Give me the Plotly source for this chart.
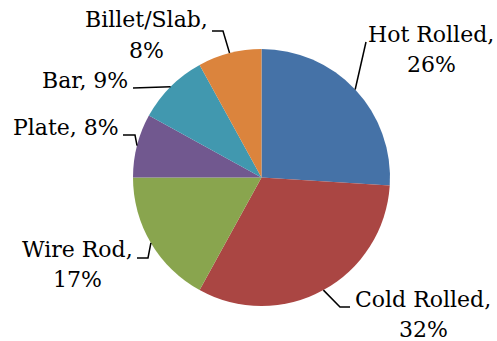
import math
import plotly.graph_objects as go

# ---- data ----
categories = ["Hot Rolled", "Cold Rolled", "Wire Rod", "Plate", "Bar", "Billet/Slab"]
shares = [26, 32, 17, 8, 9, 8]
colors = ["#4572A7", "#AA4643", "#89A54E", "#71588F", "#4198AF", "#DB843D"]

# ---- layout / style (pixels) ----
W, H = 497, 341
CX, CY, R = 261.5, 177.5, 128.5
FONT = "DejaVu Serif"
FS = 22
# per label: two-line?, text center x, first baseline y, leader-line points (label side)
label_style = [
    dict(two=True, cx=431, by=42, pts=[(366, 42)]),
    dict(two=True, cx=423, by=307, pts=[(350, 307), (340, 307)]),
    dict(two=True, cx=77, by=257, pts=[(137, 258), (148, 258)]),
    dict(two=False, cx=65.5, by=135, pts=[(123, 135), (135, 135)]),
    dict(two=False, cx=84.5, by=88, pts=[(133, 88)]),
    dict(two=True, cx=146, by=28, pts=[(212, 31), (223, 31)]),
]
LINE_GAP = 30.5


def px(x):
    return x / W


def py(y):
    return 1 - y / H


fig = go.Figure(
    go.Pie(
        labels=categories,
        values=shares,
        sort=False,
        direction="clockwise",
        rotation=0,
        marker=dict(colors=colors, line=dict(width=0)),
        textinfo="none",
        hoverinfo="label+percent",
        showlegend=False,
        domain=dict(x=[px(CX - R), px(CX + R)], y=[py(CY + R), py(CY - R)]),
    )
)

annotations = []
shapes = []
total = sum(shares)
cum = 0
for name, v, st in zip(categories, shares, label_style):
    mid = (cum + v / 2) / total * 2 * math.pi
    cum += v
    ex = CX + R * math.sin(mid)
    ey = CY - R * math.cos(mid)
    if st["two"]:
        lines = [f"{name},", f"{v}%"]
    else:
        lines = [f"{name}, {v}%"]
    for i, t in enumerate(lines):
        annotations.append(
            dict(
                text=t,
                x=px(st["cx"]),
                y=py(st["by"] + i * LINE_GAP - 8.0),
                xref="paper",
                yref="paper",
                xanchor="center",
                yanchor="middle",
                showarrow=False,
                font=dict(family=FONT, size=FS, color="#000000"),
            )
        )
    pts = st["pts"] + [(ex, ey)]
    path = "M " + " L ".join(f"{px(x)},{py(y)}" for x, y in pts)
    shapes.append(
        dict(
            type="path",
            path=path,
            xref="paper",
            yref="paper",
            line=dict(color="#000000", width=1.5),
        )
    )

fig.update_layout(
    width=W,
    height=H,
    margin=dict(l=0, r=0, t=0, b=0),
    paper_bgcolor="#FFFFFF",
    plot_bgcolor="#FFFFFF",
    annotations=annotations,
    shapes=shapes,
    font=dict(family=FONT),
)

fig.write_html("out.html")
